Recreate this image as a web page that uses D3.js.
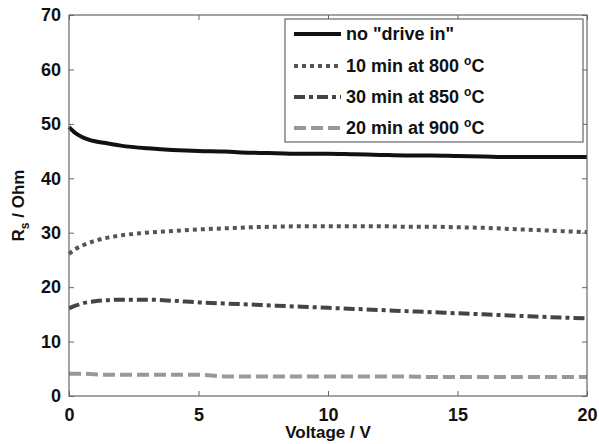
<!DOCTYPE html>
<html><head><meta charset="utf-8">
<script src="https://cdn.jsdelivr.net/npm/d3@7"></script>
<style>body{margin:0;background:#fff}svg{display:block}text{font-family:"Liberation Sans",Arial,sans-serif;font-weight:bold}</style>
</head><body>
<svg id="c" width="599" height="444"></svg>
<script>
const xTicks = [0,5,10,15,20];
const yTicks = [0,10,20,30,40,50,60,70];
const voltage = [0,0.25,0.5,1,1.5,2,3,4,5,6,7,8,9,10,11,12,13,14,15,16,17,18,19,20];
const noDrive = [49.4,48.3,47.6,46.8,46.4,46.0,45.5,45.2,45.0,44.9,44.7,44.6,44.5,44.5,44.4,44.3,44.2,44.2,44.1,44.0,43.9,43.9,43.9,43.9];
const min800 = [26.1,27.0,27.6,28.5,29.1,29.5,30.0,30.3,30.6,30.8,31.0,31.1,31.2,31.2,31.2,31.2,31.1,31.1,31.0,30.9,30.7,30.5,30.3,30.1];
const min850 = [16.1,16.6,17.0,17.4,17.6,17.7,17.7,17.5,17.2,17.0,16.8,16.6,16.4,16.2,16.0,15.8,15.6,15.4,15.2,15.0,14.8,14.6,14.4,14.3];
const min900 = [4.1,4.1,4.1,4.0,3.9,3.9,3.9,3.9,3.9,3.6,3.6,3.6,3.6,3.6,3.6,3.6,3.6,3.5,3.5,3.5,3.5,3.5,3.5,3.5];
const seriesNames = ['no "drive in"', '10 min at 800 ', '30 min at 850 ', '20 min at 900 '];

const svg = d3.select('#c');
const L=69, R=587, T=15, B=396;
const x = d3.scaleLinear().domain([0,20]).range([L,R]);
const y = d3.scaleLinear().domain([0,70]).range([B,T]);

const styles = [
  {data:noDrive, color:'#111', dash:null, w:4},
  {data:min800, color:'#555', dash:'4,4', w:4},
  {data:min850, color:'#444', dash:'11,4,4,4', w:4},
  {data:min900, color:'#999', dash:'12,5', w:4}
];
const line = d3.line().x((d,i)=>x(voltage[i])).y(d=>y(d)).curve(d3.curveMonotoneX);
const plot = svg.append('g');
styles.forEach(s=>{
  plot.append('path').attr('d',line(s.data)).attr('fill','none')
    .attr('stroke',s.color).attr('stroke-width',s.w)
    .attr('stroke-dasharray',s.dash);
});

svg.append('rect').attr('x',L).attr('y',T).attr('width',R-L).attr('height',B-T)
  .attr('fill','none').attr('stroke','#666').attr('stroke-width',1.2);

const ax = d3.axisBottom(x).tickValues(xTicks).tickSize(-5).tickPadding(12);
const gx = svg.append('g').attr('transform',`translate(0,${B})`).call(ax);
const gxt = svg.append('g').attr('transform',`translate(0,${T})`).call(d3.axisTop(x).tickValues(xTicks).tickSize(-5).tickFormat(''));
const ay = d3.axisLeft(y).tickValues(yTicks).tickSize(-5).tickPadding(8);
const gy = svg.append('g').attr('transform',`translate(${L},0)`).call(ay);
const gyr = svg.append('g').attr('transform',`translate(${R},0)`).call(d3.axisRight(y).tickValues(yTicks).tickSize(-5).tickFormat(''));
[gx,gxt,gy,gyr].forEach(g=>{
  g.select('.domain').remove();
  g.selectAll('.tick line').attr('stroke','#666');
  g.selectAll('text').attr('fill','#111').style('font-size','18px').style('font-family','"Liberation Sans",Arial,sans-serif').style('font-weight','bold');
});

svg.append('text').attr('x',(L+R)/2).attr('y',438).attr('text-anchor','middle')
  .style('font-size','17px').attr('fill','#111').text('Voltage / V');
const yl = svg.append('text').attr('transform',`translate(24,${(T+B)/2}) rotate(-90)`)
  .attr('text-anchor','middle').style('font-size','17px').attr('fill','#111');
yl.append('tspan').text('R');
yl.append('tspan').attr('dy',5).style('font-size','12px').text('s');
yl.append('tspan').attr('dy',-5).text(' / Ohm');

const lg = svg.append('g');
lg.append('rect').attr('x',285).attr('y',19).attr('width',298).attr('height',123)
  .attr('fill','#fff').attr('stroke','#666').attr('stroke-width',1.2);
const ly = [34,66,97,128];
styles.forEach((s,i)=>{
  lg.append('line').attr('x1',294).attr('x2',341).attr('y1',ly[i]).attr('y2',ly[i])
    .attr('stroke',s.color).attr('stroke-width',s.w).attr('stroke-dasharray',s.dash);
  const t = lg.append('text').attr('x',346).attr('y',ly[i]+6).style('font-size','18px').attr('fill','#111');
  t.append('tspan').text(seriesNames[i]);
  if(i>0){
    t.append('tspan').attr('dy',-7).style('font-size','12px').text('o');
    t.append('tspan').attr('dy',7).text('C');
  }
});
</script>
</body></html>
